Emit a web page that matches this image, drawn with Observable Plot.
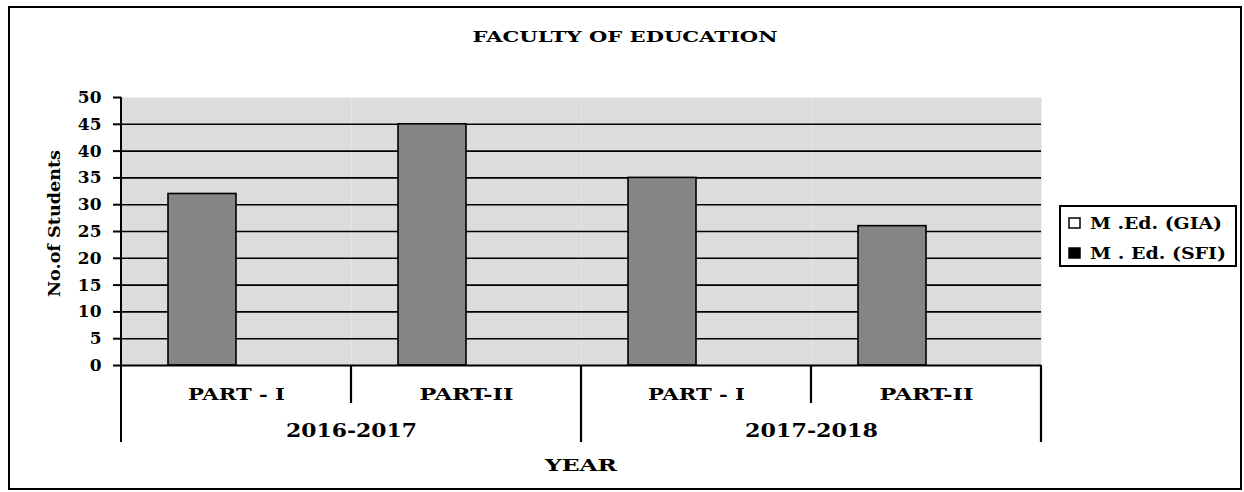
<!DOCTYPE html>
<html>
<head>
<meta charset="utf-8">
<script src="https://cdn.jsdelivr.net/npm/d3@7"></script>
<script src="https://cdn.jsdelivr.net/npm/@observablehq/plot@0.6"></script>
<style>
  html, body { margin: 0; padding: 0; background: #fff; }
  #chart { width: 1244px; height: 492px; }
</style>
</head>
<body>
<div id="chart"></div>
<script>
// ---- data ----
const years = ["2016-2017", "2017-2018"];
const parts = ["PART - I", "PART-II"];
const seriesNames = ["M .Ed. (GIA)", "M . Ed. (SFI)"];
const giaValues = [32, 45, 35, 26];
const sfiValues = [0, 0, 0, 0];
const yTicks = [0, 5, 10, 15, 20, 25, 30, 35, 40, 45, 50];
const chartTitle = "FACULTY OF EDUCATION";
const yTitle = "No.of Students";
const xTitle = "YEAR";

// ---- derived tables ----
const keys = years.flatMap(y => parts.map(p => y + "|" + p));
const rows = keys.flatMap((k, i) => [
  {key: k, series: seriesNames[0], value: giaValues[i]},
  {key: k, series: seriesNames[1], value: sfiValues[i]}
]);
const groupRows = years.map(y => ({key: y + "|" + parts[0], label: y}));

const W = 1244, H = 492;
const FONT = "'DejaVu Serif', 'Liberation Serif', serif";
const barFill = "#858585";
const legendFills = ["#ffffff", "#000000"];

const plot = Plot.plot({
  width: W, height: H,
  marginLeft: 120, marginRight: 203, marginTop: 97, marginBottom: 127,
  style: {fontFamily: FONT, background: "transparent", color: "#000", overflow: "visible"},
  fx: {domain: keys, paddingInner: 0, paddingOuter: 0, label: null},
  x: {domain: seriesNames, paddingInner: 0, paddingOuter: 0.69, axis: null},
  y: {domain: [0, 50], label: null},
  marks: [
    Plot.frame({fill: "#dcdcdc", stroke: null}),
    Plot.gridY(yTicks.filter(t => t > 0 && t < 50), {stroke: "#000", strokeOpacity: 1, strokeWidth: 1.6}),
    Plot.barY(rows.filter(d => d.value > 0), {
      fx: "key", x: "series", y: "value",
      fill: barFill, stroke: "#000", strokeWidth: 1.6
    }),
    Plot.ruleY([0], {stroke: "#000", strokeWidth: 2}),
    Plot.axisY({ticks: yTicks, tickSize: 8, tickPadding: 12, fontSize: 17, fontWeight: "bold",
                label: null, strokeWidth: 2}),
    Plot.axisFx({anchor: "bottom", tickSize: 0, tickPadding: 22, fontSize: 17, fontWeight: "bold",
                 label: null, tickFormat: k => k.split("|")[1]}),
    Plot.text(groupRows, {fx: "key", text: "label", frameAnchor: "bottom-right", dy: 71,
                          fontSize: 19, fontWeight: "bold", textAnchor: "middle"})
  ]
});

document.getElementById("chart").appendChild(plot);

// ---- decorations placed with the library's scales ----
const svg = d3.select(plot);
const fx = plot.scale("fx"), y = plot.scale("y");
const y0 = y.apply(0), yTop = y.apply(50);
const edges = keys.map(k => fx.apply(k));
edges.push(edges[edges.length - 1] + fx.bandwidth);
const left = edges[0], right = edges[edges.length - 1];

// stretch axis labels to the reference's wide serif widths
const widths = {"PART - I": 97, "PART-II": 94, "2016-2017": 131, "2017-2018": 133};
svg.selectAll("text").each(function() {
  const t = this.textContent;
  if (widths[t]) d3.select(this).attr("textLength", widths[t]).attr("lengthAdjust", "spacingAndGlyphs");
});

const deco = svg.append("g").attr("stroke", "#000").attr("fill", "none");
// y axis line (continues down as the group divider)
deco.append("line").attr("x1", left).attr("x2", left).attr("y1", yTop).attr("y2", y0 + 77).attr("stroke-width", 2);
edges.forEach((e, i) => {
  if (i === 0) return;
  const groupEdge = i % parts.length === 0;
  deco.append("line").attr("x1", e).attr("x2", e)
    .attr("y1", y0).attr("y2", y0 + (groupEdge ? 77 : 38)).attr("stroke-width", 2.2);
});

// outer chart border
deco.append("rect").attr("x", 9).attr("y", 7).attr("width", 1232).attr("height", 482).attr("stroke-width", 2);

const txt = svg.append("g").attr("fill", "#000").attr("font-family", FONT).attr("font-weight", "bold")
  .attr("text-anchor", "middle");
txt.append("text").attr("x", 625).attr("y", 42).attr("font-size", 15)
  .attr("textLength", 305).attr("lengthAdjust", "spacingAndGlyphs").text(chartTitle);
txt.append("text").attr("x", (left + right) / 2).attr("y", 471).attr("font-size", 17)
  .attr("textLength", 72).attr("lengthAdjust", "spacingAndGlyphs").text(xTitle);
txt.append("text").attr("transform", `translate(60,${(150 + 297) / 2}) rotate(-90)`)
  .attr("font-size", 16)
  .attr("textLength", 147).attr("lengthAdjust", "spacingAndGlyphs").text(yTitle);

// legend
const lg = svg.append("g").attr("text-anchor", "start");
lg.append("rect").attr("x", 1060).attr("y", 206).attr("width", 176).attr("height", 60)
  .attr("fill", "#fff").attr("stroke", "#000").attr("stroke-width", 2);
const legendWidths = [132, 136];
seriesNames.forEach((s, i) => {
  const cy = 223 + i * 30;
  lg.append("rect").attr("x", 1069).attr("y", cy - 5).attr("width", 11).attr("height", 10)
    .attr("fill", legendFills[i]).attr("stroke", "#000").attr("stroke-width", 1.5);
  lg.append("text").attr("x", 1090).attr("y", cy + 6).attr("text-anchor", "start")
    .attr("font-family", FONT).attr("font-weight", "bold")
    .attr("font-size", 16).attr("textLength", legendWidths[i]).attr("lengthAdjust", "spacingAndGlyphs").text(s);
});
</script>
</body>
</html>
